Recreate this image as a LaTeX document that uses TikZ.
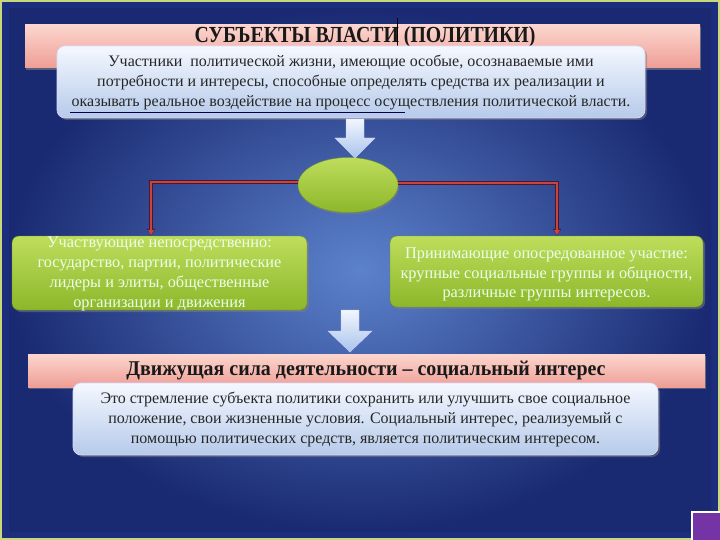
\documentclass[tikz,border=0pt]{standalone}
\usepackage{fontspec}
\setmainfont{Liberation Serif}
\usetikzlibrary{shadows,arrows.meta,calc,shapes.geometric}
\definecolor{bgin}{HTML}{5C82CC}
\definecolor{bgout}{HTML}{1C2E7C}
\definecolor{frame}{HTML}{C9D97A}
\definecolor{pinktop}{HTML}{FCD6CE}
\definecolor{pinkbot}{HTML}{EE9E96}
\definecolor{bluetop}{HTML}{F4F8FF}
\definecolor{bluebot}{HTML}{B6CAEA}
\definecolor{greentop}{HTML}{BEDD5C}
\definecolor{greenbot}{HTML}{8DB72A}
\definecolor{redline}{HTML}{C8443C}
\definecolor{reddark}{HTML}{4A1630}
\definecolor{arrtop}{HTML}{F2F6FE}
\definecolor{arrbot}{HTML}{A9C3EC}
\definecolor{purp}{HTML}{7434A6}
\tikzset{
  band/.style={draw=none, top color=pinktop, bottom color=pinkbot, inner sep=0pt,
    drop shadow={shadow xshift=1pt, shadow yshift=-2pt, opacity=0.6}},
  bluebox/.style={draw=white!85!blue, line width=0.6pt, rounded corners=8pt, top color=bluetop, bottom color=bluebot,
    inner sep=0pt, drop shadow={shadow xshift=2pt, shadow yshift=-2pt, opacity=0.5}},
  greenbox/.style={draw=greenbot!80!black, line width=0.4pt, rounded corners=7pt, top color=greentop, bottom color=greenbot,
    inner sep=0pt, drop shadow={shadow xshift=2pt, shadow yshift=-2pt, opacity=0.5}},
  bodytext/.style={align=center, font=\fontsize{16}{20}\selectfont, text=black!85},
  greentext/.style={align=center, font=\fontsize{16.3}{19.8}\selectfont, text=white!92!green},
  linkback/.style={draw=reddark, line width=3.6pt, -{Triangle[length=7pt,width=8pt]}},
  link/.style={draw=redline, line width=2pt, -{Triangle[length=5.5pt,width=6pt]}},
  blockarrow/.style={top color=arrtop, bottom color=arrbot, draw=white!80!blue, line width=0.4pt}
}
\begin{document}
\begin{tikzpicture}[x=1pt,y=-1pt]
\useasboundingbox (0,0) rectangle (720,540);
% background
\fill[frame] (0,0) rectangle (720,540);
\fill[bgout] (2,2) rectangle (718,538);
\shade[inner color=bgin, outer color=bgout!92!black] (9,9) rectangle (711,531);
% purple corner square
\fill[white] (691,511) rectangle (720,540);
\fill[purp] (693,513) rectangle (720,540);

% top band and title
\node[band, minimum width=675pt, minimum height=43pt] (band1) at (362.5,46.5) {};
\node[font=\fontsize{23}{25}\selectfont\bfseries, text=black!90, xscale=0.86] (title) at (365,37) {СУБЪЕКТЫ ВЛАСТИ (ПОЛИТИКИ)};
\draw[black, line width=0.8pt] (397,18) -- (397,50);

% definition box
\node[bluebox, minimum width=588pt, minimum height=72pt] (def) at (351,82) {};
\node[bodytext] (deftext) at ($(def.center)+(0,1)$) {Участники \ политической жизни, имеющие особые, осознаваемые ими\\
потребности и интересы, способные определять средства их реализации и\\
оказывать реальное воздействие на процесс осуществления политической власти.};
\draw[blue!30!black, line width=0.6pt] (70,112) -- (405,112);

% ellipse
\node[ellipse, minimum width=100pt, minimum height=55pt, top color=greentop, bottom color=greenbot, draw=greenbot!85!black, line width=0.4pt,
  drop shadow={shadow xshift=1pt, shadow yshift=-2pt, opacity=0.5}] (ell) at (348,185) {};

% block arrow 1 (def -> ellipse)
\coordinate (a1) at (355,118);
\shade[blockarrow] ($(a1)+(-9,1)$) -- ($(a1)+(9,1)$) -- ($(a1)+(9,20)$) -- ($(a1)+(20,20)$) -- ($(a1)+(0,40)$) -- ($(a1)+(-20,20)$) -- ($(a1)+(-9,20)$) -- cycle;

% green boxes
\node[greenbox, minimum width=295pt, minimum height=74pt] (left) at (159.5,273) {};
\node[greentext] (lefttext) at ($(left.center)+(0,1)$) {Участвующие непосредственно:\\
государство, партии, политические\\
лидеры и элиты, общественные\\
организации и движения};
\node[greenbox, minimum width=313pt, minimum height=71pt] (right) at (546.5,271.5) {};
\node[greentext] (righttext) at ($(right.center)+(0,3)$) {Принимающие опосредованное участие:\\
крупные социальные группы и общности,\\
различные группы интересов.};

% red connectors
\coordinate (lc) at (151,182);
\coordinate (rc) at (557,183);
\draw[linkback] (ell.west |- lc) -- (lc) -- (lc |- left.north);
\draw[link] (ell.west |- lc) -- (lc) -- ($(lc |- left.north)+(0,-0.5)$);
\draw[linkback] (ell.east |- rc) -- (rc) -- (rc |- right.north);
\draw[link] (ell.east |- rc) -- (rc) -- ($(rc |- right.north)+(0,-0.5)$);

% second band
\node[band, minimum width=677pt, minimum height=33pt] (band2) at (366.5,370.5) {};
\node[font=\fontsize{21}{23}\selectfont\bfseries, text=black!90, xscale=0.95] (title2) at (366,371) {Движущая сила деятельности – социальный интерес};

% block arrow 2
\coordinate (a2) at (350,310);
\shade[blockarrow] ($(a2)+(-9,0)$) -- ($(a2)+(9,0)$) -- ($(a2)+(9,21)$) -- ($(a2)+(22,21)$) -- ($(a2)+(0,42)$) -- ($(a2)+(-22,21)$) -- ($(a2)+(-9,21)$) -- cycle;

% second definition box
\node[bluebox, minimum width=585pt, minimum height=72pt] (def2) at (365.5,419) {};
\node[bodytext] (def2text) at (def2.center) {Это стремление субъекта политики сохранить или улучшить свое социальное\\
положение, свои жизненные условия. Социальный интерес, реализуемый с\\
помощью политических средств, является политическим интересом.};
\end{tikzpicture}
\end{document}
